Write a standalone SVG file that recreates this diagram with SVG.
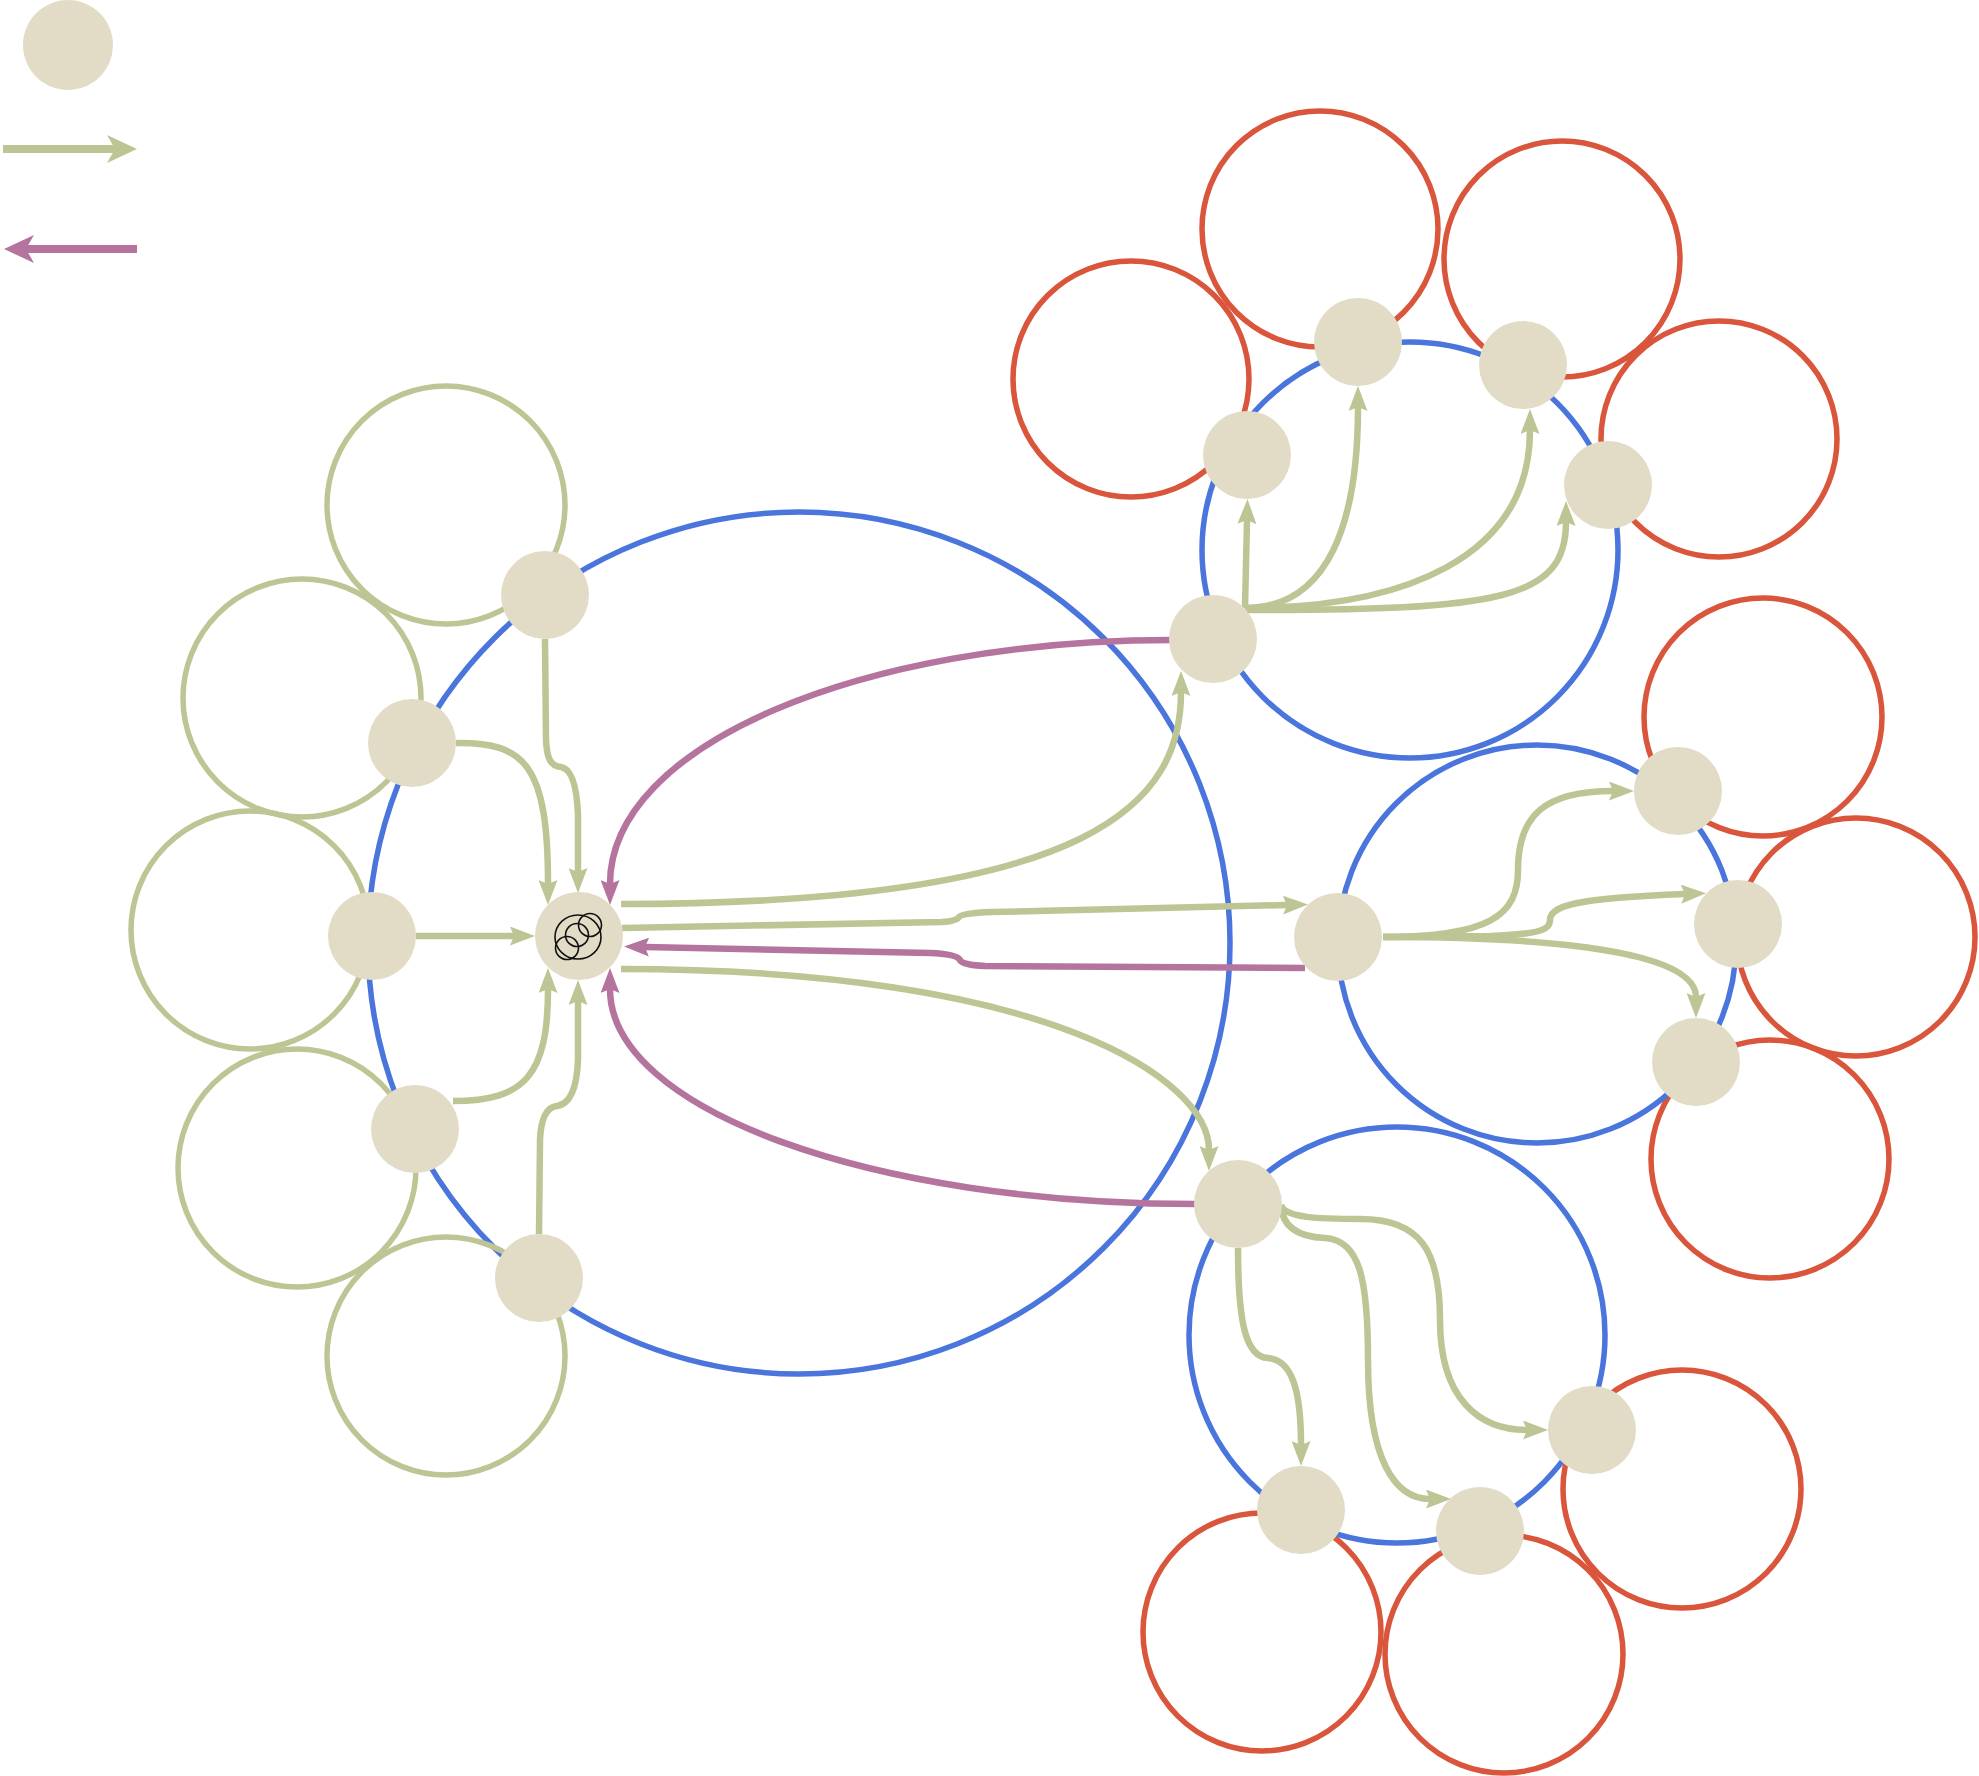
<svg xmlns="http://www.w3.org/2000/svg" width="1979" height="1776" viewBox="0 0 1979 1776">
<style>
.node{fill:#e2dcc6}
.blue{fill:none;stroke:#4a75dc;stroke-width:5.5}
.red{fill:none;stroke:#d9553b;stroke-width:5.5}
.gring{fill:none;stroke:#bec594;stroke-width:5.5}
.g{fill:none;stroke:#bec594;stroke-width:6.5}
.p{fill:none;stroke:#b5749e;stroke-width:6.5}
.icon{fill:none;stroke:#111;stroke-width:1.6}
</style>
<defs>
<marker id="ag" markerUnits="userSpaceOnUse" viewBox="0 0 25 19" markerWidth="25" markerHeight="19" refX="4" refY="9.5" orient="auto"><path d="M0,0 L25,9.5 L0,19 L4,9.5 z" fill="#bec594"/></marker>
<marker id="ap" markerUnits="userSpaceOnUse" viewBox="0 0 25 19" markerWidth="25" markerHeight="19" refX="4" refY="9.5" orient="auto"><path d="M0,0 L25,9.5 L0,19 L4,9.5 z" fill="#b5749e"/></marker>
<marker id="lg" markerUnits="userSpaceOnUse" viewBox="0 0 30 28" markerWidth="30" markerHeight="28" refX="9" refY="14" orient="auto"><path d="M0,0 L30,14 L0,28 L8,14 z" fill="#bec594"/></marker>
<marker id="lp" markerUnits="userSpaceOnUse" viewBox="0 0 30 28" markerWidth="30" markerHeight="28" refX="9" refY="14" orient="auto"><path d="M0,0 L30,14 L0,28 L8,14 z" fill="#b5749e"/></marker>
</defs>

<g id="legend">
<circle class="node" cx="68" cy="45" r="45"/>
<path d="M3,149 L116,149" fill="none" stroke="#bec594" stroke-width="8" marker-end="url(#lg)"/>
<path d="M137,249 L25,249" fill="none" stroke="#b5749e" stroke-width="8" marker-end="url(#lp)"/>
</g>

<g id="groups">
<circle class="blue" cx="799" cy="943" r="431"/>
<circle class="gring" cx="446" cy="505" r="119"/>
<circle class="gring" cx="302" cy="698" r="119"/>
<circle class="gring" cx="250" cy="930" r="119"/>
<circle class="gring" cx="297" cy="1168" r="119"/>
<circle class="gring" cx="446" cy="1356" r="119"/>

<circle class="red" cx="1131" cy="379" r="118"/>
<circle class="red" cx="1320" cy="229" r="118"/>
<circle class="red" cx="1562" cy="259" r="118"/>
<circle class="red" cx="1719" cy="439" r="118"/>
<circle class="blue" cx="1410" cy="550" r="208"/>

<circle class="red" cx="1763" cy="717" r="119"/>
<circle class="red" cx="1856" cy="937" r="119"/>
<circle class="red" cx="1770" cy="1159" r="119"/>
<circle class="blue" cx="1537" cy="944" r="199"/>

<circle class="red" cx="1682" cy="1489" r="119"/>
<circle class="red" cx="1504" cy="1654" r="119"/>
<circle class="red" cx="1262" cy="1632" r="119"/>
<circle class="blue" cx="1397" cy="1335" r="208"/>
</g>

<g id="connectors">
<path class="g" d="M545,639 L546,740 C547,760 551,766 561,767 C573,769 577,790 578,815 L578,872" marker-end="url(#ag)"/>
<path class="g" d="M456,743 C525,742 548,765 548,884" marker-end="url(#ag)"/>
<path class="g" d="M416,936 L514,936" marker-end="url(#ag)"/>
<path class="g" d="M453,1101 C525,1101 548,1075 548,989" marker-end="url(#ag)"/>
<path class="g" d="M539,1234 L540,1140 C541,1116 547,1107 557,1106 C571,1104 577,1085 578,1060 L578,1001" marker-end="url(#ag)"/>

<path class="g" d="M621,904 C1100,904 1181,800 1181,692" marker-end="url(#ag)"/>
<path class="g" d="M622,928 L942,922 Q957,921 959,917 Q961,913 992,912 L1287,905" marker-end="url(#ag)"/>
<path class="p" d="M1305,968 L985,966 Q962,965 960,960 Q957,954 930,953 L645,947" marker-end="url(#ap)"/>
<path class="g" d="M621,969 C1050,969 1209,1080 1209,1150" marker-end="url(#ag)"/>
<path class="p" d="M1172,640 C861,640 610,745 610,884" marker-end="url(#ap)"/>
<path class="p" d="M1196,1204 C872,1204 610,1110 610,989" marker-end="url(#ap)"/>

<path class="g" d="M1245,608 L1247,520" marker-end="url(#ag)"/>
<path class="g" d="M1245,608 C1330,608 1358,520 1358,407" marker-end="url(#ag)"/>
<path class="g" d="M1245,608 C1400,608 1530,560 1530,430" marker-end="url(#ag)"/>
<path class="g" d="M1245,610 C1500,610 1566,600 1566,522" marker-end="url(#ag)"/>

<path class="g" d="M1383,937 C1490,937 1518,915 1518,870 C1518,815 1545,791 1613,791" marker-end="url(#ag)"/>
<path class="g" d="M1383,937 L1490,936 C1540,934 1550,930 1550,920 C1550,906 1575,898 1685,894" marker-end="url(#ag)"/>
<path class="g" d="M1383,937 C1600,937 1696,960 1696,997" marker-end="url(#ag)"/>

<path class="g" d="M1238,1248 C1238,1320 1245,1357 1268,1358 C1292,1360 1301,1390 1301,1445" marker-end="url(#ag)"/>
<path class="g" d="M1281,1205 C1282,1228 1300,1237 1325,1238 C1360,1240 1368,1280 1368,1360 C1368,1460 1395,1499 1430,1499" marker-end="url(#ag)"/>
<path class="g" d="M1281,1205 C1285,1218 1320,1219 1360,1219 C1420,1219 1440,1250 1440,1320 C1440,1400 1480,1430 1527,1430" marker-end="url(#ag)"/>
</g>

<g id="n-center"><circle class="node" cx="579" cy="936" r="44"/>
<g class="icon"><ellipse cx="578" cy="937" rx="23" ry="22"/><circle cx="590" cy="925" r="11.5"/><circle cx="577" cy="935" r="11.5"/><circle cx="567" cy="948" r="11.5"/></g></g>
<g id="n-l1"><circle class="node" cx="545" cy="595" r="44"/></g>
<g id="n-l2"><circle class="node" cx="412" cy="743" r="44"/></g>
<g id="n-l3"><circle class="node" cx="372" cy="936" r="44"/></g>
<g id="n-l4"><circle class="node" cx="415" cy="1129" r="44"/></g>
<g id="n-l5"><circle class="node" cx="539" cy="1278" r="44"/></g>

<g id="n-ur"><circle class="node" cx="1213" cy="639" r="44"/></g>
<g id="n-ur1"><circle class="node" cx="1247" cy="455" r="44"/></g>
<g id="n-ur2"><circle class="node" cx="1358" cy="342" r="44"/></g>
<g id="n-ur3"><circle class="node" cx="1523" cy="365" r="44"/></g>
<g id="n-ur4"><circle class="node" cx="1608" cy="485" r="44"/></g>

<g id="n-r"><circle class="node" cx="1338" cy="937" r="44"/></g>
<g id="n-r1"><circle class="node" cx="1678" cy="791" r="44"/></g>
<g id="n-r2"><circle class="node" cx="1738" cy="924" r="44"/></g>
<g id="n-r3"><circle class="node" cx="1696" cy="1062" r="44"/></g>

<g id="n-lo"><circle class="node" cx="1238" cy="1204" r="44"/></g>
<g id="n-lo1"><circle class="node" cx="1301" cy="1510" r="44"/></g>
<g id="n-lo2"><circle class="node" cx="1480" cy="1531" r="44"/></g>
<g id="n-lo3"><circle class="node" cx="1592" cy="1430" r="44"/></g>
</svg>
